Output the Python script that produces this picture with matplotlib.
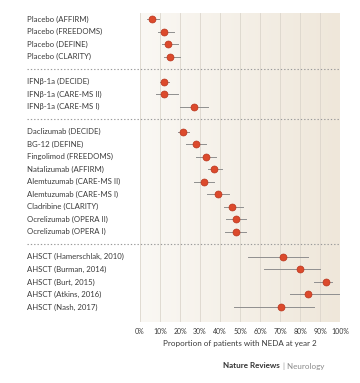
import numpy as np
import matplotlib.pyplot as plt
from matplotlib.colors import LinearSegmentedColormap
import matplotlib.transforms as mtransforms

labels = [
    "Placebo (AFFIRM)", "Placebo (FREEDOMS)", "Placebo (DEFINE)", "Placebo (CLARITY)",
    None,
    "IFNβ-1a (DECIDE)", "IFNβ-1a (CARE-MS II)", "IFNβ-1a (CARE-MS I)",
    None,
    "Daclizumab (DECIDE)", "BG-12 (DEFINE)", "Fingolimod (FREEDOMS)", "Natalizumab (AFFIRM)",
    "Alemtuzumab (CARE-MS II)", "Alemtuzumab (CARE-MS I)", "Cladribine (CLARITY)",
    "Ocrelizumab (OPERA II)", "Ocrelizumab (OPERA I)",
    None,
    "AHSCT (Hamerschlak, 2010)", "AHSCT (Burman, 2014)", "AHSCT (Burt, 2015)",
    "AHSCT (Atkins, 2016)", "AHSCT (Nash, 2017)",
]
neda = [6, 12, 14, 15, None, 12, 12, 27, None,
        21.5, 28, 33, 37, 32, 39, 46, 48, 48, None,
        71.5, 80, 93, 84, 70.5]
ci_low = [3.7, 9, 11, 12, None, 10, 8, 20, None,
          19, 23, 28, 34, 27, 33.5, 42, 43, 42.5, None,
          54, 62, 87, 75, 47]
ci_high = [9.7, 17, 19, 20, None, 14.5, 19, 34, None,
           24.5, 33, 38, 41, 37, 44.5, 51.5, 53, 53, None,
           84, 90, 96, 99.5, 87]
ticks = [0, 10, 20, 30, 40, 50, 60, 70, 80, 90, 100]

plt.rcParams['font.family'] = ['Lato', 'DejaVu Sans']
txt = '#3a3a3a'

fig = plt.figure(figsize=(3.6, 3.83), dpi=100)
fig.patch.set_facecolor('white')
ax = fig.add_axes([140/360, 1-322/383, 200/360, 309/383])

n = len(labels)
ax.set_xlim(0, 100)
ax.set_ylim(n - 1 + 1.2, -0.48)

# beige gradient background
cmap = LinearSegmentedColormap.from_list('bg', ['#faf8f4', '#efe7da'])
grad = np.linspace(0, 1, 256).reshape(1, -1)
ax.imshow(grad, cmap=cmap, aspect='auto', extent=[0, 100, n - 1 + 1.2, -0.48], zorder=0)

for t in ticks:
    ax.axvline(t, color='#dcd6cc', lw=0.6, zorder=1)

trans = mtransforms.blended_transform_factory(fig.transFigure, ax.transData)
for i, lab in enumerate(labels):
    if lab is None:
        ax.plot([27/360, 340/360], [i, i], transform=trans, clip_on=False,
                color='#9a9a9a', lw=0.8, ls=(0, (1.2, 1.8)), zorder=3)
        continue
    ax.text(27/360, i, lab, transform=trans, ha='left', va='center',
            fontsize=5.6, color=txt)
    ax.plot([ci_low[i], ci_high[i]], [i, i], color='#8f8f8f', lw=0.7, zorder=4)
    ax.plot(neda[i], i, 'o', ms=5.0, mfc='#dc4a2c', mec='#b8341c', mew=0.5, zorder=5)

ax.set_xticks(ticks)
ax.set_xticklabels([f"{t}%" for t in ticks], fontsize=5.0, color=txt)
ax.set_yticks([])
ax.tick_params(axis='x', length=0, pad=4)
for s in ax.spines.values():
    s.set_visible(False)
ax.set_xlabel('Proportion of patients with NEDA at year 2', fontsize=5.8, color=txt, labelpad=4)

fig.text(223/360, 1-366/383, 'Nature Reviews', fontsize=5.8, fontweight='bold',
         color='#333333', va='center', ha='left')
fig.text(283/360, 1-366/383, '| Neurology', fontsize=5.8, color='#8a8a8a',
         va='center', ha='left')

fig.savefig('out.png', dpi=100)
